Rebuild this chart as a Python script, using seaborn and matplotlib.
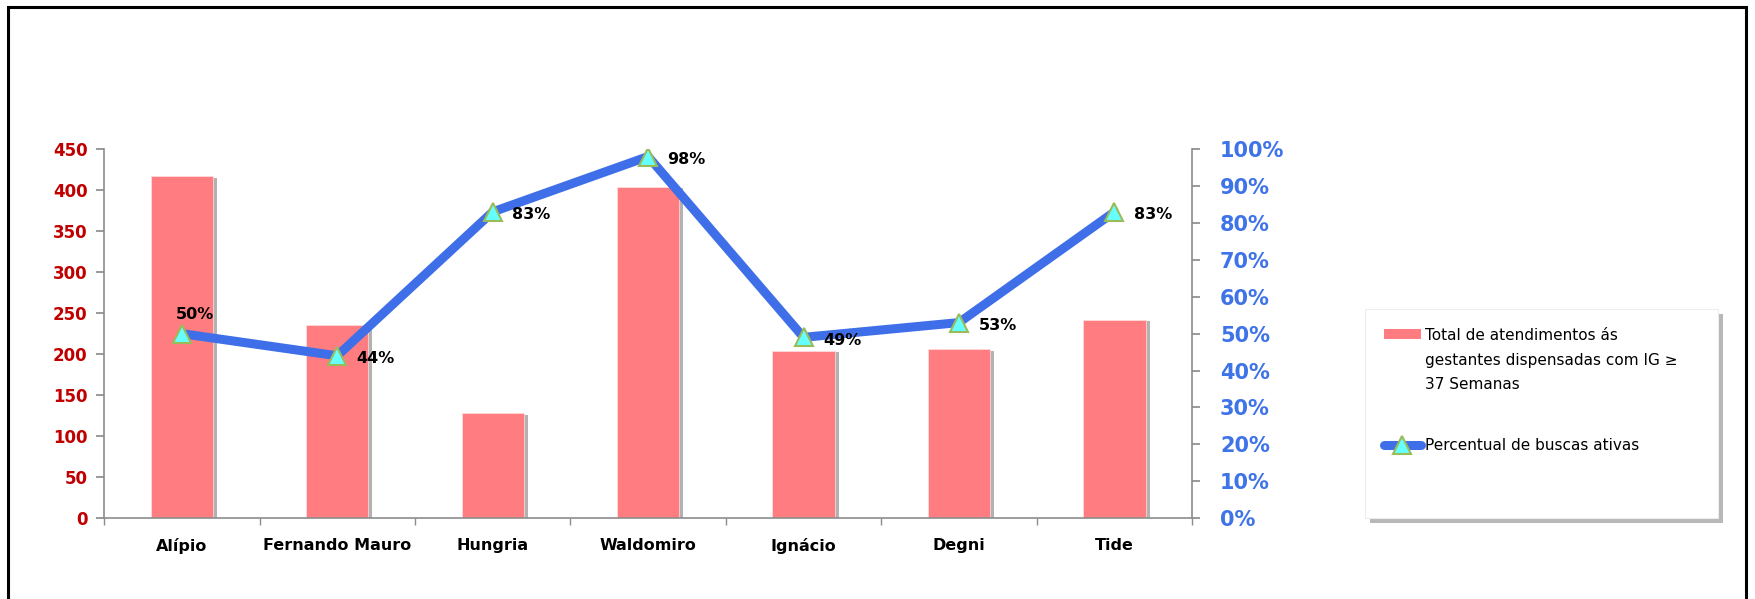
import numpy as np
import matplotlib
matplotlib.use("Agg")
import matplotlib.pyplot as plt
import matplotlib.patheffects as pe
from matplotlib.patches import Rectangle, Patch
from matplotlib.legend_handler import HandlerPatch
from matplotlib.ticker import PercentFormatter
import seaborn as sns

# data
categories = ["Alípio", "Fernando Mauro", "Hungria", "Waldomiro", "Ignácio", "Degni", "Tide"]
atendimentos = [417, 236, 128, 404, 204, 206, 242]
buscas_pct = [0.50, 0.44, 0.83, 0.98, 0.49, 0.53, 0.83]
pct_labels = ["50%", "44%", "83%", "98%", "49%", "53%", "83%"]

bar_label = "Total de atendimentos ás\ngestantes dispensadas com IG ≥\n37 Semanas"
line_label = "Percentual de buscas ativas"

sns.set_theme(style="white")
plt.rcParams['font.family'] = ['DejaVu Sans']

BAR = "#FF7C80"
LINE = "#3F6FE8"
GRAY = "#8C8C8C"

fig = plt.figure(figsize=(17.55, 5.99), dpi=100)
ax = fig.add_axes([0.0593, 0.135, 0.620, 0.616])

df_x = np.arange(len(categories))
sns.barplot(x=df_x, y=atendimentos, color=BAR, width=0.4, saturation=1,
            ax=ax, native_scale=True)
for p in ax.patches:
    p.set_edgecolor("#FFE0E0")
    p.set_linewidth(0.5)
    p.set_path_effects([pe.SimplePatchShadow(offset=(3, -1), shadow_rgbFace="#7f7f7f", alpha=0.6),
                        pe.Normal()])

ax.set_xlim(-0.5, len(categories) - 0.5)
ax.set_ylim(0, 450)
ax.set_yticks(np.arange(0, 451, 50))
ax.set_xticks(df_x)
ax.set_xticklabels(categories, fontsize=11.5, fontweight="bold", color="black")
ax.set_xticks(np.arange(-0.5, len(categories), 1), minor=True)
ax.tick_params(axis="x", which="major", length=0, pad=14)
ax.tick_params(axis="x", which="minor", length=5, direction="out", color=GRAY, bottom=True)
ax.tick_params(axis="y", length=6, direction="out", color=GRAY, left=True, pad=6,
               labelsize=12, labelcolor="#C00000")
for t in ax.get_yticklabels():
    t.set_fontweight("bold")
for s in ["top", "right"]:
    ax.spines[s].set_visible(False)
for s in ["left", "bottom"]:
    ax.spines[s].set_color(GRAY)
    ax.spines[s].set_linewidth(1.2)
ax.set_xlabel("")
ax.set_ylabel("")
ax.grid(False)

ax2 = ax.twinx()
sns.lineplot(x=df_x, y=buscas_pct, ax=ax2, color=LINE, linewidth=6.5, marker="^",
             markersize=13, markerfacecolor="#66FFFF", markeredgecolor="#9BBB59",
             markeredgewidth=1.5, label=line_label, legend=False)
ax2.set_ylim(0, 1)
ax2.set_yticks(np.arange(0, 1.01, 0.1))
ax2.yaxis.set_major_formatter(PercentFormatter(1.0, decimals=0))
ax2.tick_params(axis="y", length=6, direction="out", color=GRAY, right=True, pad=14,
                labelsize=15, labelcolor="#3F73E8")
for t in ax2.get_yticklabels():
    t.set_fontweight("bold")
for s in ["top", "left", "bottom"]:
    ax2.spines[s].set_visible(False)
ax2.spines["right"].set_color(GRAY)
ax2.spines["right"].set_linewidth(1.2)
ax2.set_ylabel("")
ax2.grid(False)
if ax2.get_legend() is not None:
    ax2.get_legend().remove()

for i, (v, lab) in enumerate(zip(buscas_pct, pct_labels)):
    off = (-4, 14) if i == 0 else (14, -2)
    ax2.annotate(lab, (i, v), xytext=off, textcoords="offset points",
                 ha="left", va="center", fontsize=11.5, fontweight="bold", color="black")

# legend box with shadow
box_x, box_y, box_w, box_h = 1365 / 1755, 81 / 599, 353 / 1755, 209 / 599
fig.patches.append(Rectangle((box_x + 5 / 1755, box_y - 5 / 599), box_w, box_h,
                             transform=fig.transFigure, facecolor="#9A9A9A",
                             edgecolor="none", alpha=0.7, zorder=0))
fig.patches.append(Rectangle((box_x, box_y), box_w, box_h, transform=fig.transFigure,
                             facecolor="white", edgecolor="#EDEDED", linewidth=0.8, zorder=1))


def top_patch(legend, orig_handle, xdescent, ydescent, width, height, fontsize):
    # put the bar swatch beside the first line of the wrapped label
    return Rectangle((-xdescent, -ydescent + 1.75 * fontsize), width, height)


bar_handle = Patch(facecolor=BAR, edgecolor="none")
h2, l2 = ax2.get_legend_handles_labels()
leg = fig.legend([bar_handle] + h2, [bar_label] + l2, loc="upper left",
                 bbox_to_anchor=(1384 / 1755, 1 - 328 / 599),
                 fontsize=11, frameon=False, borderpad=0, labelspacing=3.0,
                 handlelength=2.4, handleheight=0.6, handletextpad=0.3, borderaxespad=0,
                 handler_map={Patch: HandlerPatch(patch_func=top_patch)})
for t in leg.get_texts():
    t.set_color("black")
    t.set_linespacing(1.8)
leg.set_zorder(5)

# outer frame
fig.patches.append(Rectangle((0.0046, -0.02), 0.9904, 1.008, transform=fig.transFigure,
                             fill=False, edgecolor="black", linewidth=2.2))

fig.savefig("out.png", dpi=100, facecolor="white")
